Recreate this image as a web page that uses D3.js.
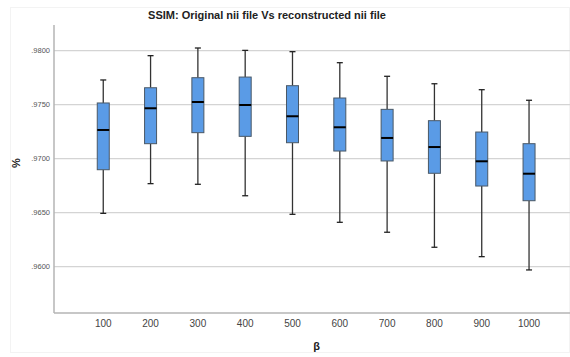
<!DOCTYPE html>
<html><head><meta charset="utf-8">
<script src="https://cdn.jsdelivr.net/npm/d3@7"></script>
<style>body{margin:0;background:#fff}svg{display:block}</style>
</head><body>
<script>
const categories = ["100","200","300","400","500","600","700","800","900","1000"];
const whiskerLow  = [0.96494,0.96769,0.96763,0.96657,0.96485,0.96411,0.96319,0.96180,0.96093,0.95970];
const q1          = [0.96898,0.97139,0.97241,0.97207,0.97148,0.97071,0.96979,0.96865,0.96747,0.96611];
const median      = [0.97266,0.97467,0.97525,0.97497,0.97393,0.97291,0.97192,0.97108,0.96976,0.96861];
const q3          = [0.97516,0.97657,0.97750,0.97756,0.97676,0.97562,0.97457,0.97352,0.97247,0.97139];
const whiskerHigh = [0.97729,0.97954,0.98025,0.98003,0.97991,0.97889,0.97763,0.97694,0.97639,0.97541];
const yTicks = [0.96,0.965,0.97,0.975,0.98];
const yTickLabels = [".9600",".9650",".9700",".9750",".9800"];
const title = "SSIM: Original nii file Vs reconstructed nii file";
const xLabel = "β", yLabel = "%";

(function(){
const W = 570, H = 357;
const svg = d3.select("body").append("svg").attr("width", W).attr("height", H);
svg.append("rect").attr("x",10.5).attr("y",7.5).attr("width",W-11).attr("height",H-12)
   .attr("fill","#fff").attr("stroke","#f3f3f3");

const pL = 54, pR = 570, pT = 25, pB = 313;
const y = d3.scaleLinear().domain([0.96,0.98]).range([266.7,50.7]);
const x = d3.scaleBand().domain(categories).range([79.6,552.7]);
const font = "Liberation Sans, Arial, sans-serif";

svg.append("g").selectAll("line").data(yTicks).join("line")
  .attr("x1",pL).attr("x2",pR).attr("y1",d=>y(d)).attr("y2",d=>y(d))
  .attr("stroke","#d4d4d4").attr("stroke-width",1.2);

svg.append("g").selectAll("text").data(yTicks).join("text")
  .attr("x",pL-4).attr("y",d=>y(d)+2.7).attr("text-anchor","end")
  .attr("font-family",font).attr("font-size",7.5).attr("fill","#555")
  .text((d,i)=>yTickLabels[i]);

svg.append("line").attr("x1",pL).attr("x2",pL).attr("y1",pT).attr("y2",pB)
  .attr("stroke","#b4b4b4").attr("stroke-width",1.5);
svg.append("line").attr("x1",pL).attr("x2",pR).attr("y1",pB).attr("y2",pB)
  .attr("stroke","#b4b4b4").attr("stroke-width",1.5);

const xAxis = d3.axisBottom(x).tickSize(0).tickPadding(0);
const gx = svg.append("g").attr("transform",`translate(0,${pB})`).call(xAxis);
gx.select(".domain").remove();
gx.selectAll("text").attr("y",7).attr("dy","0.71em").attr("font-family",font)
  .attr("font-size",10).attr("fill","#444");

const data = categories.map((c,i)=>({c, lo:whiskerLow[i], q1:q1[i], med:median[i], q3:q3[i], hi:whiskerHigh[i]}));
const bw = 12, cap = 6;
const g = svg.append("g").selectAll("g").data(data).join("g")
  .attr("transform",d=>`translate(${x(d.c)+x.bandwidth()/2},0)`);
g.append("line").attr("x1",0).attr("x2",0).attr("y1",d=>y(d.hi)).attr("y2",d=>y(d.q3))
  .attr("stroke","#333").attr("stroke-width",1.3);
g.append("line").attr("x1",0).attr("x2",0).attr("y1",d=>y(d.q1)).attr("y2",d=>y(d.lo))
  .attr("stroke","#333").attr("stroke-width",1.3);
g.append("line").attr("x1",-cap/2).attr("x2",cap/2).attr("y1",d=>y(d.hi)).attr("y2",d=>y(d.hi))
  .attr("stroke","#222").attr("stroke-width",1.3);
g.append("line").attr("x1",-cap/2).attr("x2",cap/2).attr("y1",d=>y(d.lo)).attr("y2",d=>y(d.lo))
  .attr("stroke","#222").attr("stroke-width",1.3);
g.append("rect").attr("x",-bw/2).attr("width",bw).attr("y",d=>y(d.q3)).attr("height",d=>y(d.q1)-y(d.q3))
  .attr("fill","#5a9be6").attr("stroke","#4a5866").attr("stroke-width",1);
g.append("line").attr("x1",-bw/2).attr("x2",bw/2).attr("y1",d=>y(d.med)).attr("y2",d=>y(d.med))
  .attr("stroke","#000").attr("stroke-width",2);

svg.append("text").attr("x",267).attr("y",19).attr("text-anchor","middle")
  .attr("font-family",font).attr("font-size",11).attr("font-weight","bold").attr("fill","#222").text(title);
svg.append("text").attr("x",316.7).attr("y",350).attr("text-anchor","middle")
  .attr("font-family",font).attr("font-size",11).attr("font-weight","bold").attr("fill","#222").text(xLabel);
svg.append("text").attr("transform","translate(19.5,163) rotate(-90)").attr("text-anchor","middle")
  .attr("font-family",font).attr("font-size",11).attr("font-weight","bold").attr("fill","#222").text(yLabel);
})();
</script>
</body></html>
